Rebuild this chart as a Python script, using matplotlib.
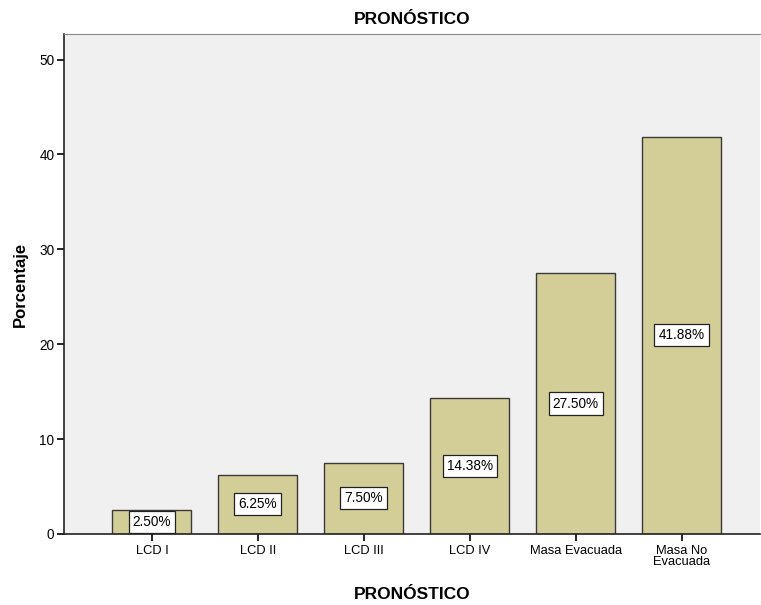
import matplotlib
matplotlib.use("Agg")
import matplotlib.pyplot as plt

categories = ["LCD I", "LCD II", "LCD III", "LCD IV", "Masa Evacuada", "Masa No\nEvacuada"]
values = [2.50, 6.25, 7.50, 14.38, 27.50, 41.88]
yticks = [0, 10, 20, 30, 40, 50]

plt.rcParams['font.family'] = ['Liberation Sans', 'DejaVu Sans']

fig = plt.figure(figsize=(7.61, 6.05), dpi=100)
ax = fig.add_axes([0.0841, 0.1174, 0.9146, 0.8264])
ax.set_facecolor("#F0F0F0")

x = list(range(len(categories)))
ax.bar(x, values, width=0.745, color="#D3CE97", edgecolor="#3a3a3a", linewidth=1.0, zorder=2)

for xi, v in zip(x, values):
    ax.text(xi, v / 2, f"{v:.2f}%", ha="center", va="center", fontsize=9.8, zorder=3,
            bbox=dict(boxstyle="square,pad=0.3", facecolor="white", edgecolor="#222222", linewidth=0.9))

ax.set_xlim(-0.83, 5.74)
ax.set_ylim(0, 52.7)
ax.set_yticks(yticks)
ax.set_xticks(x)
ax.set_xticklabels(categories, fontsize=9.3, linespacing=0.85)
ax.tick_params(axis="y", labelsize=9.8, length=5, width=1.2, direction="out", pad=2)
ax.tick_params(axis="x", length=5, width=1.2, direction="out", pad=3)

for s in ["left", "bottom"]:
    ax.spines[s].set_color("#222222")
    ax.spines[s].set_linewidth(1.2)
ax.spines["top"].set_color("#888888")
ax.spines["right"].set_visible(False)

ax.set_title("PRONÓSTICO", fontsize=12.5, fontweight="bold", pad=7)
ax.set_xlabel("PRONÓSTICO", fontsize=12.5, fontweight="bold", labelpad=14)
ax.set_ylabel("Porcentaje", fontsize=12, fontweight="bold", labelpad=8)

fig.savefig("out.png", dpi=100)
